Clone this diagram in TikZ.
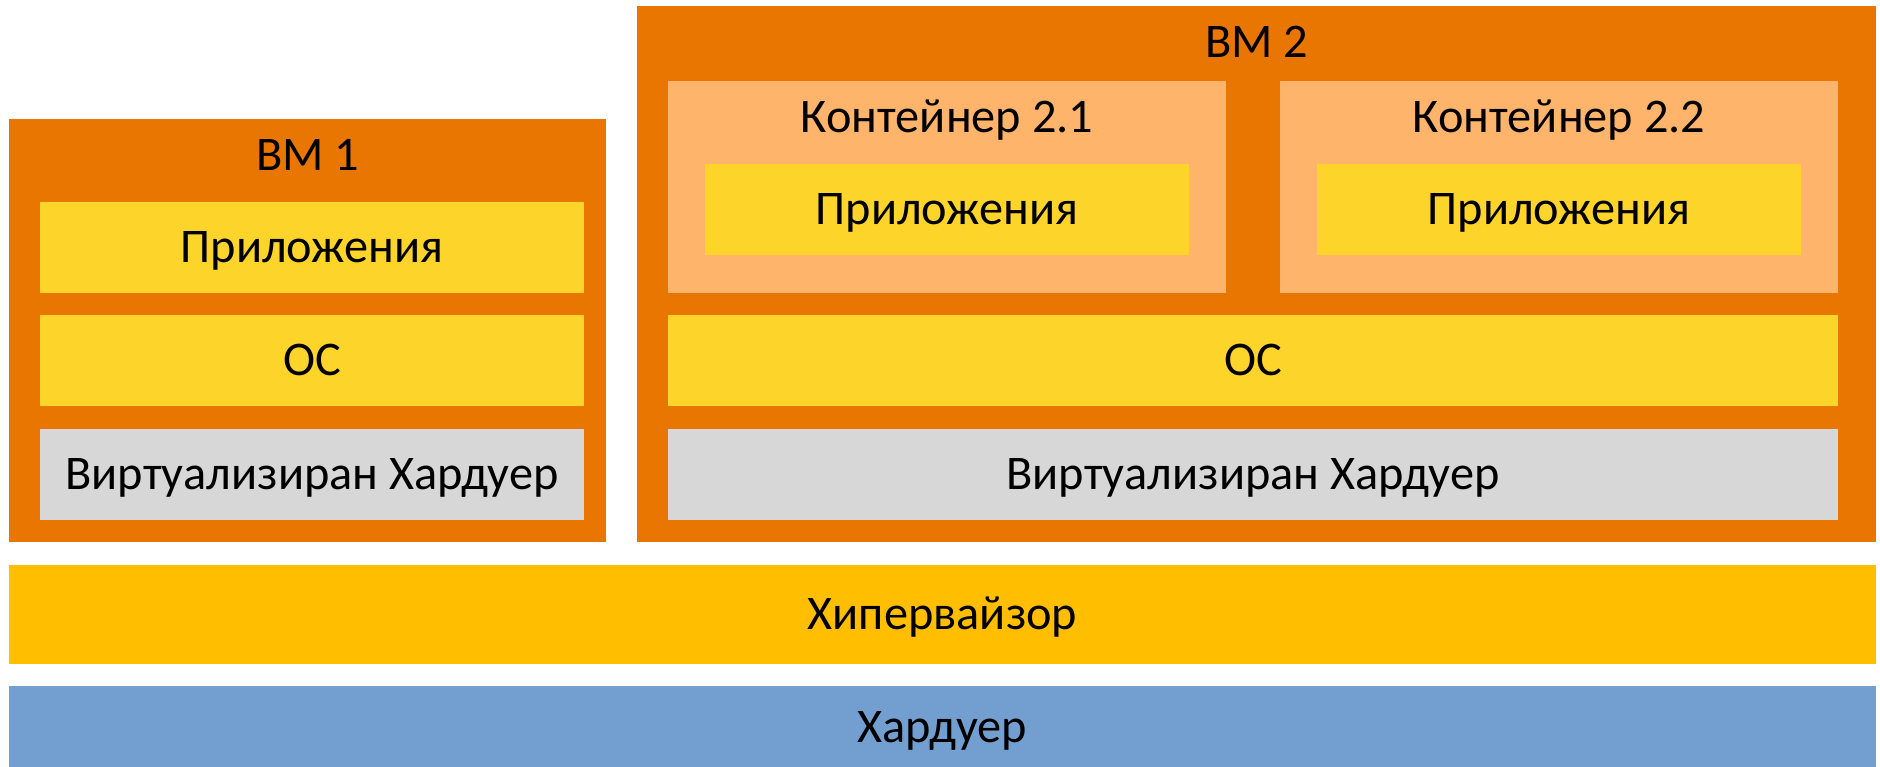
\documentclass[tikz,border=0pt]{standalone}
\usepackage{fontspec}
\setmainfont{Carlito}
\usetikzlibrary{positioning}

\definecolor{vmorange}{RGB}{233,118,0}
\definecolor{contorange}{RGB}{255,180,108}
\definecolor{appyellow}{RGB}{253,212,42}
\definecolor{hwgrey}{RGB}{215,215,215}
\definecolor{hypyellow}{RGB}{255,191,0}
\definecolor{hwblue}{RGB}{115,159,208}

\begin{document}
\begin{tikzpicture}[
    x=0.02cm, y=-0.02cm, % 1 unit = 1 px, y downwards
    lbl/.style={text height=17.6pt, text depth=0pt, inner sep=0pt, font=\fontsize{27.5}{32}\selectfont}
]
    \useasboundingbox (0,0) rectangle (1880,767);

    % --- 1. VM 1 ---
    \fill[vmorange] (9,119) rectangle (606,542);
    \node[lbl] (vm1) at (307.5,155) {ВМ 1};

    \fill[appyellow] (40,202) rectangle (584,293);
    \node[lbl] (vm1_apps) at (312,247.5) {Приложения};

    \fill[appyellow] (40,315) rectangle (584,406);
    \node[lbl] (vm1_os) at (312,360.5) {ОС};

    \fill[hwgrey] (40,429) rectangle (584,520);
    \node[lbl] (vm1_vhw) at (312,474.5) {Виртуализиран Хардуер};

    % --- 2. VM 2 ---
    \fill[vmorange] (637,6) rectangle (1876,542);
    \node[lbl] (vm2) at (1256.5,42.5) {ВМ 2};

    % macro for the two containers
    \newcommand{\drawContainer}[3]{
        % #1: left x, #2: name, #3: label
        \fill[contorange] (#1,81) rectangle (#1+558,293);
        \node[lbl] (#2) at (#1+279,117) {Контейнер #3};
        \fill[appyellow] (#1+37,164) rectangle (#1+521,255);
        \node[lbl] (#2_apps) at (#1+279,209.5) {Приложения};
    }

    \drawContainer{668}{c21}{2.1}
    \drawContainer{1280}{c22}{2.2}

    \fill[appyellow] (668,315) rectangle (1838,406);
    \node[lbl] (vm2_os) at (1253,360.5) {ОС};

    \fill[hwgrey] (668,429) rectangle (1838,520);
    \node[lbl] (vm2_vhw) at (1253,474.5) {Виртуализиран Хардуер};

    % --- 3. Hypervisor & hardware ---
    \fill[hypyellow] (9,565) rectangle (1876,664);
    \node[lbl] (hyp) at (942.5,614.5) {Хипервайзор};

    \fill[hwblue] (9,686) rectangle (1876,770);
    \node[lbl] (hw) at (942.5,727) {Хардуер};

\end{tikzpicture}
\end{document}
